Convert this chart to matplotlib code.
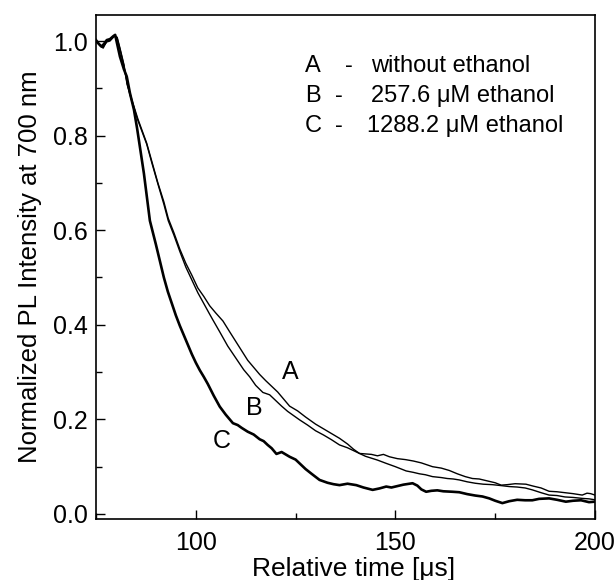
import matplotlib
matplotlib.use("Agg")
import matplotlib.pyplot as plt
from matplotlib.ticker import MultipleLocator, FormatStrFormatter

plt.rcParams['font.family'] = ['Liberation Sans', 'DejaVu Sans']

# Time axis (µs) and normalized PL intensity for each sample
time_a = [75, 76, 76.8, 77.7, 78.5, 79.6, 80.3, 81, 82, 82.8, 84, 85.5, 87.7, 89, 90.5,
          92, 93.1, 94.5, 96, 97.5, 99, 100.5, 102, 103.5, 105, 106.8, 108.5, 110,
          111.5, 113, 114.5, 116, 117.5, 119, 120.5, 122, 123.5, 125.5, 127.5, 130,
          132, 134, 136, 138, 139.5, 141, 142.5, 144, 145.5, 147, 148.5, 150.5,
          152.5, 154.5, 156.5, 159.3, 161.5, 163.5, 165.5, 167.5, 169.3, 171, 173,
          175, 176.5, 178, 180, 182.7, 184.5, 186.5, 188.5, 190.5, 192.5, 194.5,
          196.8, 198, 198.9, 200]
int_a = [1.0, 0.99, 0.985, 1.0, 1.002, 1.012, 1.008, 0.985, 0.95, 0.91, 0.875, 0.835,
         0.784, 0.745, 0.70, 0.66, 0.625, 0.595, 0.56, 0.53, 0.505, 0.478, 0.46,
         0.44, 0.425, 0.408, 0.385, 0.365, 0.345, 0.325, 0.31, 0.295, 0.282, 0.27,
         0.258, 0.243, 0.228, 0.218, 0.205, 0.19, 0.18, 0.17, 0.16, 0.148, 0.137,
         0.128, 0.127, 0.126, 0.123, 0.126, 0.121, 0.117, 0.115, 0.112, 0.108,
         0.100, 0.097, 0.092, 0.085, 0.079, 0.075, 0.074, 0.070, 0.066, 0.061,
         0.062, 0.064, 0.063, 0.059, 0.055, 0.048, 0.047, 0.045, 0.043, 0.040,
         0.044, 0.043, 0.040]

time_b = [75, 76, 76.8, 77.7, 78.5, 79.6, 80.3, 81, 82, 82.8, 84, 85.5, 87.7, 89, 90.5,
          92, 93.1, 94.5, 96, 97.5, 99, 100.5, 102, 103.3, 104.3, 106, 108, 110,
          112, 113.5, 115, 116.8, 118.5, 120, 121.5, 123, 124.5, 126, 128, 130,
          132, 134, 136, 138, 139.5, 141, 142.5, 144, 145.5, 147.7, 150, 152.7,
          154.5, 156, 157.5, 159.3, 161.5, 163, 164.5, 166, 168, 170, 172, 174.3,
          176.5, 178.5, 180.5, 182.5, 184.3, 186.5, 188.5, 190.5, 192.5, 194.5,
          196.8, 198.5, 200]
int_b = [0.998, 0.992, 0.988, 0.998, 1.0, 1.01, 1.006, 0.983, 0.948, 0.908, 0.872, 0.832,
         0.782, 0.742, 0.698, 0.655, 0.62, 0.59, 0.555, 0.522, 0.495, 0.468, 0.445,
         0.425, 0.41, 0.385, 0.355, 0.33, 0.305, 0.29, 0.272, 0.257, 0.252, 0.24,
         0.228, 0.217, 0.208, 0.199, 0.188, 0.176, 0.167, 0.157, 0.146, 0.140,
         0.134, 0.128, 0.122, 0.118, 0.114, 0.107, 0.100, 0.091, 0.088, 0.085,
         0.083, 0.079, 0.077, 0.075, 0.074, 0.072, 0.068, 0.065, 0.063, 0.062,
         0.060, 0.058, 0.057, 0.055, 0.051, 0.045, 0.040, 0.039, 0.036, 0.035,
         0.033, 0.032, 0.030]

time_c = [75, 75.6, 76.4, 77.2, 77.7, 78.5, 79.3, 79.8, 81, 82, 82.7, 83.5, 84.5, 85.3,
          86, 87, 88.5, 90, 91, 92, 93, 94, 95, 96, 97, 98, 99, 100, 101, 102, 103,
          104.5, 106, 107.5, 109.3, 110.5, 111.5, 113, 114.5, 116, 117, 118, 119,
          120.2, 121.5, 122.5, 123.5, 125, 126, 127.5, 129, 131, 133, 134.5, 136,
          138, 140.2, 142, 144.3, 146, 147.7, 149, 150.5, 152, 154.3, 155.5, 156.5,
          157.7, 159, 160.5, 162, 164.3, 166, 168, 170, 171.8, 173.5, 175, 176.8,
          178.5, 180.5, 182.5, 184.3, 186, 188.5, 190.5, 192.7, 194.5, 196.5,
          198.5, 200]
int_c = [1.002, 0.995, 0.988, 0.996, 1.002, 1.004, 1.01, 1.013, 0.967, 0.94, 0.925,
         0.89, 0.855, 0.815, 0.776, 0.72, 0.62, 0.57, 0.535, 0.50, 0.47, 0.445,
         0.42, 0.398, 0.378, 0.358, 0.338, 0.32, 0.304, 0.29, 0.275, 0.25, 0.227,
         0.21, 0.192, 0.188, 0.182, 0.174, 0.168, 0.158, 0.154, 0.146, 0.139, 0.127,
         0.131, 0.126, 0.121, 0.115, 0.107, 0.095, 0.085, 0.072, 0.066, 0.063,
         0.061, 0.064, 0.061, 0.056, 0.051, 0.054, 0.058, 0.056, 0.059, 0.062,
         0.065, 0.060, 0.052, 0.047, 0.049, 0.050, 0.048, 0.047, 0.046, 0.042,
         0.039, 0.037, 0.033, 0.028, 0.023, 0.027, 0.030, 0.029, 0.029, 0.032,
         0.033, 0.030, 0.026, 0.028, 0.029, 0.025, 0.026]

legend_keys = ["A", "B", "C"]
legend_desc = ["without ethanol", "257.6 \u03bcM ethanol", "1288.2 \u03bcM ethanol"]

fig = plt.figure(figsize=(6.15, 5.8), dpi=100)
ax = fig.add_axes([96 / 615, 1 - 519 / 580, (595 - 96) / 615, (519 - 15) / 580])

ax.plot(time_a, int_a, color='black', lw=1.0)
ax.plot(time_b, int_b, color='black', lw=1.0)
ax.plot(time_c, int_c, color='black', lw=1.9)

ax.set_xlim(75, 200)
ax.set_ylim(-0.0106, 1.055)
ax.xaxis.set_major_locator(MultipleLocator(50))
ax.xaxis.set_minor_locator(MultipleLocator(25))
ax.yaxis.set_major_locator(MultipleLocator(0.2))
ax.yaxis.set_minor_locator(MultipleLocator(0.1))
ax.yaxis.set_major_formatter(FormatStrFormatter('%.1f'))
ax.tick_params(which='both', direction='in', top=False, right=False,
               labelsize=18, width=1.0)
ax.tick_params(axis='y', pad=6)
ax.tick_params(axis='x', pad=9)
ax.tick_params(which='major', length=6.5)
ax.tick_params(which='minor', length=4)
for s in ax.spines.values():
    s.set_linewidth(1.2)

ax.set_xlabel("Relative time [\u03bcs]", fontsize=19, labelpad=0)
ax.xaxis.set_label_coords((354 - 96) / 499, -0.075)
ax.set_ylabel("Normalized PL Intensity at 700 nm", fontsize=18.5, labelpad=8)

# Curve labels
ax.text(123.7, 0.30, "A", fontsize=18, ha='center', va='center')
ax.text(114.7, 0.224, "B", fontsize=18, ha='center', va='center')
ax.text(106.5, 0.154, "C", fontsize=18, ha='center', va='center')

# Key: letter, dash, description
dash_x = [345, 335, 335]
desc_x = [371, 371, 367]
for i, (k, d) in enumerate(zip(legend_keys, legend_desc)):
    yy = 66 + i * 30
    fy = 1 - yy / 580
    fig.text(305 / 615, fy, k, fontsize=17, ha='left', va='center')
    fig.text(dash_x[i] / 615, fy, "-", fontsize=17, ha='left', va='center')
    fig.text(desc_x[i] / 615, fy, d, fontsize=17, ha='left', va='center')

fig.savefig("out.png", dpi=100)
